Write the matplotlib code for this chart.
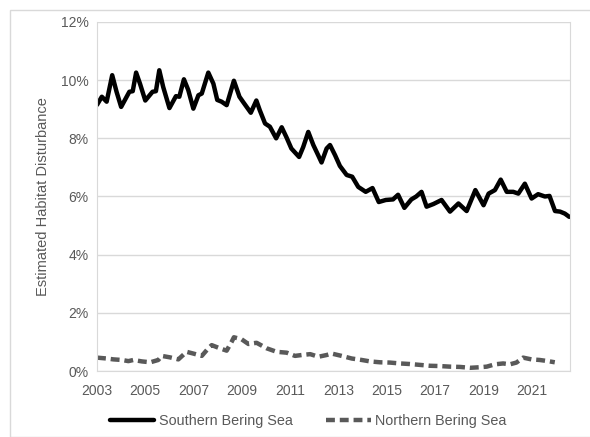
import matplotlib.pyplot as plt
from matplotlib.patches import Rectangle
from matplotlib.ticker import FuncFormatter

plt.rcParams['font.family'] = ['Liberation Sans', 'DejaVu Sans']

# Southern Bering Sea (year, percent)
south_year = [2003.00, 2003.20, 2003.40, 2003.63, 2003.81, 2004.00, 2004.34, 2004.48,
              2004.62, 2004.78, 2005.00, 2005.30, 2005.44, 2005.58, 2005.74, 2006.00,
              2006.27, 2006.41, 2006.60, 2006.78, 2006.99, 2007.20, 2007.34, 2007.61,
              2007.82, 2007.98, 2008.16, 2008.37, 2008.67, 2008.90, 2009.06, 2009.37,
              2009.60, 2009.74, 2009.96, 2010.16, 2010.42, 2010.65, 2010.85, 2011.05,
              2011.37, 2011.54, 2011.75, 2011.96, 2012.16, 2012.30, 2012.51, 2012.65,
              2012.86, 2013.06, 2013.34, 2013.57, 2013.82, 2014.13, 2014.41, 2014.67,
              2014.96, 2015.26, 2015.47, 2015.73, 2016.02, 2016.22, 2016.44, 2016.65,
              2016.93, 2017.27, 2017.62, 2017.97, 2018.31, 2018.67, 2019.01, 2019.22,
              2019.48, 2019.72, 2019.97, 2020.24, 2020.45, 2020.72, 2021.00, 2021.27,
              2021.55, 2021.74, 2021.97, 2022.18, 2022.38, 2022.56]
south_val = [9.15, 9.43, 9.26, 10.17, 9.60, 9.08, 9.60, 9.62,
             10.26, 9.88, 9.30, 9.60, 9.62, 10.34, 9.77, 9.04,
             9.45, 9.43, 10.03, 9.66, 9.02, 9.48, 9.54, 10.26,
             9.88, 9.32, 9.26, 9.14, 9.98, 9.43, 9.24, 8.88,
             9.30, 8.97, 8.51, 8.40, 8.00, 8.38, 8.03, 7.65,
             7.36, 7.70, 8.22, 7.77, 7.42, 7.17, 7.65, 7.77,
             7.42, 7.05, 6.74, 6.68, 6.33, 6.16, 6.29, 5.81,
             5.88, 5.90, 6.06, 5.61, 5.90, 6.00, 6.16, 5.65,
             5.74, 5.88, 5.48, 5.76, 5.50, 6.22, 5.70, 6.10,
             6.22, 6.58, 6.16, 6.16, 6.10, 6.44, 5.93, 6.08,
             6.00, 6.02, 5.50, 5.48, 5.41, 5.30]

# Northern Bering Sea
north_year = [2003.00, 2003.40, 2003.68, 2004.03, 2004.30, 2004.51, 2004.86, 2005.21,
              2005.54, 2005.68, 2006.02, 2006.37, 2006.71, 2006.99, 2007.34, 2007.61,
              2007.75, 2008.09, 2008.37, 2008.58, 2008.67, 2008.99, 2009.27, 2009.61,
              2010.03, 2010.44, 2010.86, 2011.20, 2011.48, 2011.83, 2012.17, 2012.51,
              2012.72, 2013.13, 2013.55, 2013.96, 2014.31, 2014.72, 2015.13, 2015.55,
              2015.96, 2016.38, 2016.79, 2017.21, 2017.62, 2018.04, 2018.45, 2018.86,
              2019.14, 2019.48, 2019.82, 2020.10, 2020.37, 2020.65, 2020.99, 2021.33,
              2021.68, 2021.96]
north_val = [0.46, 0.43, 0.40, 0.38, 0.34, 0.38, 0.33, 0.30,
             0.38, 0.52, 0.47, 0.40, 0.66, 0.60, 0.52, 0.78,
             0.89, 0.78, 0.70, 1.01, 1.16, 1.09, 0.93, 0.97,
             0.78, 0.66, 0.63, 0.52, 0.55, 0.58, 0.49, 0.55,
             0.60, 0.52, 0.43, 0.38, 0.33, 0.30, 0.29, 0.26,
             0.24, 0.21, 0.18, 0.17, 0.15, 0.14, 0.11, 0.13,
             0.15, 0.23, 0.26, 0.23, 0.29, 0.46, 0.40, 0.38,
             0.34, 0.30]

year_ticks = [2003, 2005, 2007, 2009, 2011, 2013, 2015, 2017, 2019, 2021]
pct_ticks = [0, 2, 4, 6, 8, 10, 12]

grey_txt = '#595959'
fig = plt.figure(figsize=(5.9, 4.37), dpi=100)
ax = fig.add_axes([0.1644, 0.151, 0.8017, 0.7987])

ax.plot(south_year, south_val, color='black', lw=3.2, solid_joinstyle='round',
        solid_capstyle='round', label='Southern Bering Sea')
ax.plot(north_year, north_val, color='#595959', lw=3.2, dashes=(2.0, 1.1),
        label='Northern Bering Sea')

ax.set_xlim(2003, 2022.59)
ax.set_ylim(0, 12)
ax.set_xticks(year_ticks)
ax.set_yticks(pct_ticks)
ax.yaxis.set_major_formatter(FuncFormatter(lambda v, p: f'{v:.0f}%'))
ax.tick_params(length=0, labelsize=10, labelcolor=grey_txt, pad=6)
ax.tick_params(axis='x', pad=9)
ax.grid(axis='y', color='#d9d9d9', lw=1)
ax.set_axisbelow(True)
for side in ['left', 'bottom', 'right']:
    ax.spines[side].set_color('#d9d9d9')
ax.spines['top'].set_visible(False)
ax.set_ylabel('Estimated Habitat Disturbance', fontsize=10.5, color=grey_txt, labelpad=8)

fig.legend(loc='center', bbox_to_anchor=(0.522, 0.036), ncol=2, frameon=False,
           fontsize=10.4, handlelength=3.1, handletextpad=0.3, columnspacing=2.3,
           labelcolor=grey_txt)

fig.patches.append(Rectangle((10 / 590, 0.0), 1.2, 1 - 10 / 437, transform=fig.transFigure,
                             fill=False, edgecolor='#d9d9d9', lw=1))

fig.savefig('out.png', dpi=100)
